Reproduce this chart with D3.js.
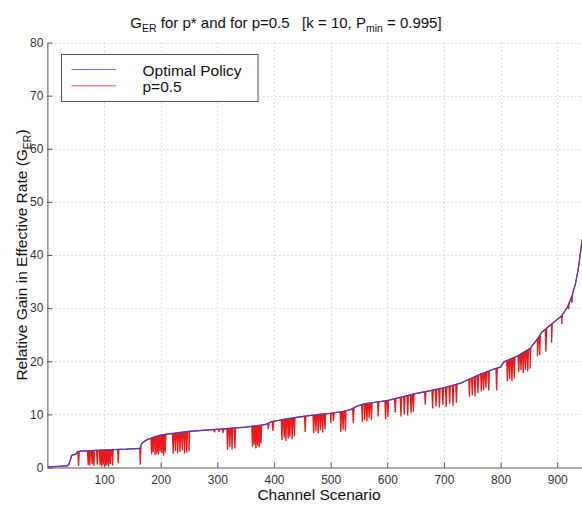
<!DOCTYPE html>
<html><head><meta charset="utf-8">
<script src="https://cdn.jsdelivr.net/npm/d3@7"></script>
<style>
body{margin:0;background:#fff}
svg{display:block}
text{font-family:"Liberation Sans",Arial,Helvetica,sans-serif}
</style>
</head><body>
<svg id="c" width="582" height="506"></svg>
<script>
// ---- data ----
const optX = [1, 35, 38, 43, 50, 53, 60, 100, 140, 163, 167, 175, 190, 200, 220, 250, 300, 350, 385, 395, 420, 450, 480, 500, 520, 535, 548, 560, 600, 650, 700, 730, 763, 790, 800, 806, 830, 852, 865, 873, 890, 908, 918, 925, 932, 937, 941, 944];
const optY = [0.1, 0.3, 0.6, 2.3, 2.5, 3.0, 3.1, 3.3, 3.45, 3.6, 4.6, 5.2, 5.8, 6.1, 6.4, 6.8, 7.2, 7.6, 8.1, 8.6, 9.1, 9.6, 10.0, 10.2, 10.5, 10.9, 11.6, 12.0, 12.6, 13.9, 15.0, 15.9, 17.5, 18.6, 18.9, 19.9, 21.0, 22.4, 24.2, 25.5, 27.0, 28.6, 30.2, 32.0, 34.5, 37.3, 40.5, 43.0];

const dipX = [55, 72, 75, 79, 82, 88, 93, 96, 99, 102, 105, 108, 111, 115, 125, 164,
  184, 187, 190, 193, 196, 199, 202, 205, 208, 222, 226, 230, 234, 238, 242, 246, 250,
  295, 303, 310, 318, 322, 326, 331,
  362, 365, 368, 371, 374, 377, 390, 398, 414, 418, 421, 425, 428, 432, 436,
  455, 470, 474, 478, 482, 486, 490, 500, 505, 518, 522, 526, 540,
  556, 560, 564, 568, 572, 584, 597, 601, 614, 624, 630, 636, 642, 646,
  667, 680, 686, 692, 698, 704, 710, 716, 722, 745, 750, 755, 760, 766, 770, 774, 779, 793,
  812, 816, 820, 824, 832, 836, 840, 844, 848, 852, 865, 869, 880, 890, 908, 920, 926];
const dipY = [0.3, 0.5, 0.4, 0.6, 0.3, 0.5, 0.4, 0.2, 0.5, 0.3, 0.4, 0.2, 0.6, 0.4, 0.8, 0.5,
  2.5, 2.9, 2.3, 2.6, 2.4, 3.0, 2.7, 2.2, 2.8, 2.6, 3.1, 2.7, 2.9, 3.2, 2.6, 2.8, 3.0,
  6.6, 6.7, 6.5, 3.3, 3.8, 3.4, 3.6,
  3.9, 4.3, 3.6, 4.1, 3.8, 4.5, 7.2, 6.9, 5.2, 5.6, 5.0, 5.4, 5.8, 5.3, 5.9,
  6.7, 6.5, 6.8, 6.4, 7.0, 6.6, 7.2, 8.4, 8.7, 6.7, 7.1, 6.9, 8.4,
  8.6, 9.0, 8.7, 9.3, 8.9, 9.6, 9.1, 9.5, 10.3, 9.6, 10.0, 9.8, 10.2, 10.5,
  11.8, 11.1, 11.5, 11.3, 11.8, 11.4, 12.0, 11.6, 12.2, 13.3, 13.6, 13.4, 14.0, 14.3, 14.6, 15.0, 14.5, 14.5,
  16.2, 16.6, 16.3, 16.8, 18.0, 18.3, 17.8, 18.4, 18.1, 18.6, 20.9, 21.2, 21.8, 23.5, 27.0, 29.8, 31.0];

const xTicks = [100, 200, 300, 400, 500, 600, 700, 800, 900];
const yTicks = [0, 10, 20, 30, 40, 50, 60, 70, 80];
const seriesNames = ["Optimal Policy", "p=0.5"];
const seriesColors = ["#4040d4", "#e81a1a"];

// ---- drawing ----
const svg = d3.select("#c");
const x = d3.scaleLinear().domain([0, 1000]).range([47.4, 613.9]);
const y = d3.scaleLinear().domain([0, 80]).range([467.5, 42.5]);

// grid
const grid = svg.append("g").attr("stroke", "#bdbdbd").attr("stroke-width", 1).attr("stroke-dasharray", "1,3");
grid.selectAll("line.v").data(xTicks).join("line")
  .attr("x1", d => Math.round(x(d)) + 0.5).attr("x2", d => Math.round(x(d)) + 0.5)
  .attr("y1", y(0)).attr("y2", y(80));
grid.selectAll("line.h").data(yTicks.filter(d => d > 0)).join("line")
  .attr("y1", d => Math.round(y(d)) + 0.5).attr("y2", d => Math.round(y(d)) + 0.5)
  .attr("x1", x(0)).attr("x2", 582);

// axes
const axL = svg.append("g").attr("transform", `translate(${x(0)},0)`)
  .call(d3.axisLeft(y).tickValues(yTicks).tickSize(-5).tickSizeOuter(0).tickPadding(4));
const axB = svg.append("g").attr("transform", `translate(0,${y(0)})`)
  .call(d3.axisBottom(x).tickValues(xTicks).tickSize(-5).tickSizeOuter(0).tickPadding(8));
[axL, axB].forEach(a => {
  a.select(".domain").attr("stroke", "#555");
  a.selectAll(".tick line").attr("stroke", "#555");
  a.selectAll(".tick text").attr("fill", "#333").style("font-size", "12px")
    .style("font-family", '"Liberation Sans",Arial,sans-serif');
});

// series
const f = d3.scaleLinear().domain(optX).range(optY);
const redPts = optX.map((v, i) => [v, optY[i]]);
dipX.forEach((v, i) => {
  redPts.push([v - 1.2, f(v - 1.2)], [v, dipY[i]], [v + 1.2, f(v + 1.2)]);
});
redPts.sort((a, b) => a[0] - b[0]);
const line = d3.line().x(d => x(d[0])).y(d => y(d[1]));
svg.append("path").datum(redPts).attr("d", line)
  .attr("fill", "none").attr("stroke", seriesColors[1]).attr("stroke-width", 1.3);
svg.append("path").datum(optX.map((v, i) => [v, optY[i]])).attr("d", line)
  .attr("fill", "none").attr("stroke", seriesColors[0]).attr("stroke-width", 1.1);

// legend
const lg = svg.append("g");
lg.append("rect").attr("x", 61.5).attr("y", 54.5).attr("width", 196.5).attr("height", 47)
  .attr("fill", "#fff").attr("stroke", "#555").attr("stroke-width", 1);
seriesNames.forEach((n, i) => {
  const yy = 69.5 + i * 16.3;
  lg.append("line").attr("x1", 71.5).attr("x2", 116).attr("y1", yy).attr("y2", yy)
    .attr("stroke", seriesColors[i]).attr("stroke-width", 1).attr("opacity", 0.75);
  lg.append("text").attr("x", 142.5).attr("y", yy + 6.2).attr("fill", "#111")
    .style("font-size", "15.5px").text(n);
});

// title
const t = svg.append("text").attr("x", 286).attr("y", 28).attr("text-anchor", "middle")
  .attr("fill", "#111").style("font-size", "15px").style("white-space", "pre");
t.append("tspan").text("G");
t.append("tspan").attr("dy", 4).style("font-size", "10.5px").text("ER");
t.append("tspan").attr("dy", -4).text(" for p* and for p=0.5   [k = 10, P");
t.append("tspan").attr("dy", 4).style("font-size", "10.5px").text("min");
t.append("tspan").attr("dy", -4).text(" = 0.995]");

// x label
svg.append("text").attr("x", 319).attr("y", 500).attr("text-anchor", "middle")
  .attr("fill", "#111").style("font-size", "15.5px").text("Channel Scenario");

// y label
const yl = svg.append("text").attr("transform", "translate(27,255) rotate(-90)")
  .attr("text-anchor", "middle").attr("fill", "#111").style("font-size", "15.5px");
yl.append("tspan").text("Relative Gain in Effective Rate (G");
yl.append("tspan").attr("dy", 4).style("font-size", "10.5px").text("ER");
yl.append("tspan").attr("dy", -4).text(")");
</script>
</body></html>
